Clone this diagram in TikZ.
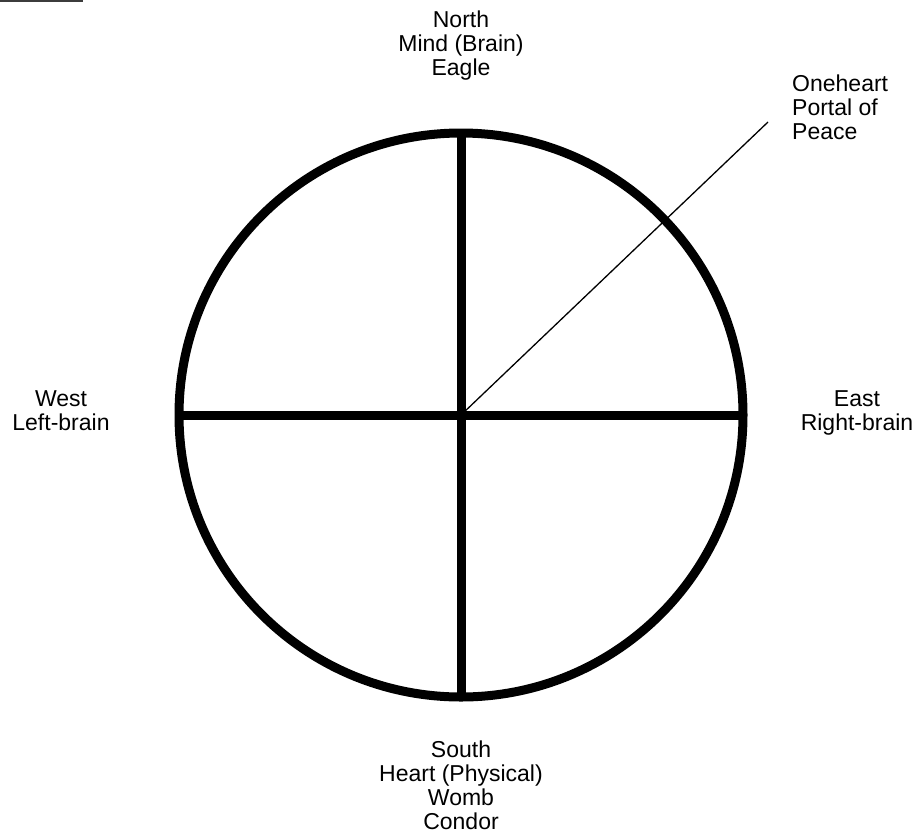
\documentclass[tikz,border=0pt]{standalone}
\usepackage{fontspec}
\setmainfont{Liberation Sans}
\usetikzlibrary{positioning}
\definecolor{RimInk}{HTML}{000000}
\definecolor{MarkInk}{HTML}{3C3C3C}
\tikzset{every node/.style={font=\fontsize{23}{24}\selectfont,inner sep=0pt,align=center},
 rim/.style={draw=RimInk,line width=9pt},spoke/.style={draw=RimInk,line width=9pt},
 leader/.style={draw=RimInk,line width=1.3pt}}

\begin{document}
\begin{tikzpicture}[x=1pt,y=-1pt]
\useasboundingbox (0,0) rectangle (921,839);
\draw[MarkInk,line width=2pt] (0,1)--(83,1);
\coordinate (hub) at (461,415);
\coordinate (top) at (461,133);\coordinate (bottom) at (461,697);
\coordinate (left) at (179,415);\coordinate (right) at (743,415);
\coordinate (tip) at (768,122);
\draw[rim] (hub) circle[radius=282pt];
\draw[spoke] (top)--(bottom);
\draw[spoke] (left)--(right);
\draw[leader] (hub)--(tip);
\node[anchor=north] (north) at (461,11) {North\\Mind (Brain)\\Eagle};
\node[anchor=north west,align=left] (portal) at (792,75) {Oneheart\\Portal of\\Peace};
\node[anchor=north] (west) at (61,390) {West\\Left-brain};
\node[anchor=north] (east) at (857,390) {East\\Right-brain};
\node[anchor=north] (south) at (461,741) {South\\Heart (Physical)\\Womb\\Condor};
\end{tikzpicture}
\end{document}
